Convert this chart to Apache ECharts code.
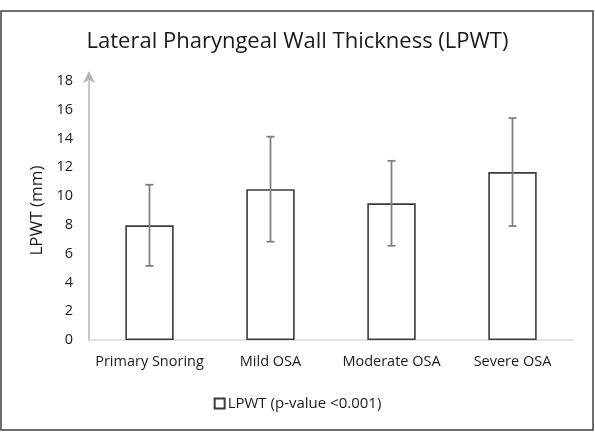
<!DOCTYPE html>
<html>
<head>
<meta charset="utf-8">
<script src="https://cdn.jsdelivr.net/npm/echarts@6/dist/echarts.min.js"></script>
<style>
html,body{margin:0;padding:0;background:#fff;}
#chart{width:595px;height:442px;}
</style>
</head>
<body>
<div id="chart"></div>
<script>
const titleText = 'Lateral Pharyngeal Wall Thickness (LPWT)';
const seriesName = 'LPWT (p-value <0.001)';
const categories = ['Primary Snoring', 'Mild OSA', 'Moderate OSA', 'Severe OSA'];
const means = [7.97, 10.48, 9.5, 11.67];
const errors = [2.82, 3.65, 2.95, 3.75];
const yTicks = [0, 2, 4, 6, 8, 10, 12, 14, 16, 18];

const FONT = 'Open Sans';
const chart = echarts.init(document.getElementById('chart'), null, {renderer: 'canvas'});

const errData = categories.map((c, i) => [i, means[i] - errors[i], means[i] + errors[i]]);

chart.setOption({
  animation: false,
  backgroundColor: '#fff',
  title: {
    text: titleText,
    left: 'center',
    top: 26,
    textStyle: {fontFamily: FONT, fontSize: 22, fontWeight: 'normal', color: '#1a1a1a'}
  },
  legend: {
    bottom: 26,
    left: 'center',
    itemWidth: 10,
    itemHeight: 10,
    itemGap: 4,
    icon: 'rect',
    data: [seriesName],
    textStyle: {fontFamily: FONT, fontSize: 15, color: '#1a1a1a', padding: [0, 0, 0, -2]}
  },
  grid: {left: 89, right: 22, top: 81, bottom: 102},
  xAxis: {
    type: 'category',
    data: categories,
    axisLine: {lineStyle: {color: '#d9d9d9', width: 1.5}},
    axisTick: {show: false},
    axisLabel: {fontFamily: FONT, fontSize: 14.5, color: '#1a1a1a', margin: 14, interval: 0}
  },
  yAxis: {
    type: 'value',
    min: 0,
    max: yTicks[yTicks.length - 1],
    interval: 2,
    name: 'LPWT (mm)',
    nameLocation: 'middle',
    nameGap: 43,
    nameTextStyle: {fontFamily: FONT, fontSize: 17, color: '#1a1a1a'},
    splitLine: {show: false},
    axisTick: {show: false},
    axisLine: {
      show: true,
      symbol: ['none', 'arrow'],
      symbolSize: [9, 12],
      symbolOffset: [0, 10],
      lineStyle: {color: '#b4b4b4', width: 1.5}
    },
    axisLabel: {fontFamily: FONT, fontSize: 14.5, color: '#1a1a1a', margin: 16}
  },
  series: [
    {
      name: seriesName,
      type: 'bar',
      data: means,
      barWidth: '40%',
      itemStyle: {color: '#ffffff', borderColor: '#3a3a3a', borderWidth: 1.6}
    },
    {
      type: 'custom',
      name: 'err',
      data: errData,
      z: 10,
      renderItem: function (params, api) {
        const x = api.value(0);
        const lo = api.coord([x, api.value(1)]);
        const hi = api.coord([x, api.value(2)]);
        const hw = 4;
        const style = {stroke: '#808080', lineWidth: 1.8, fill: null};
        return {
          type: 'group',
          children: [
            {type: 'line', shape: {x1: lo[0], y1: lo[1], x2: hi[0], y2: hi[1]}, style: style},
            {type: 'line', shape: {x1: lo[0] - hw, y1: lo[1], x2: lo[0] + hw, y2: lo[1]}, style: style},
            {type: 'line', shape: {x1: hi[0] - hw, y1: hi[1], x2: hi[0] + hw, y2: hi[1]}, style: style}
          ]
        };
      }
    }
  ],
  graphic: [
    {
      type: 'rect',
      shape: {x: 1, y: 11, width: 592, height: 419},
      style: {fill: null, stroke: '#404040', lineWidth: 1.5},
      z: 100,
      silent: true
    }
  ]
});
</script>
</body>
</html>
